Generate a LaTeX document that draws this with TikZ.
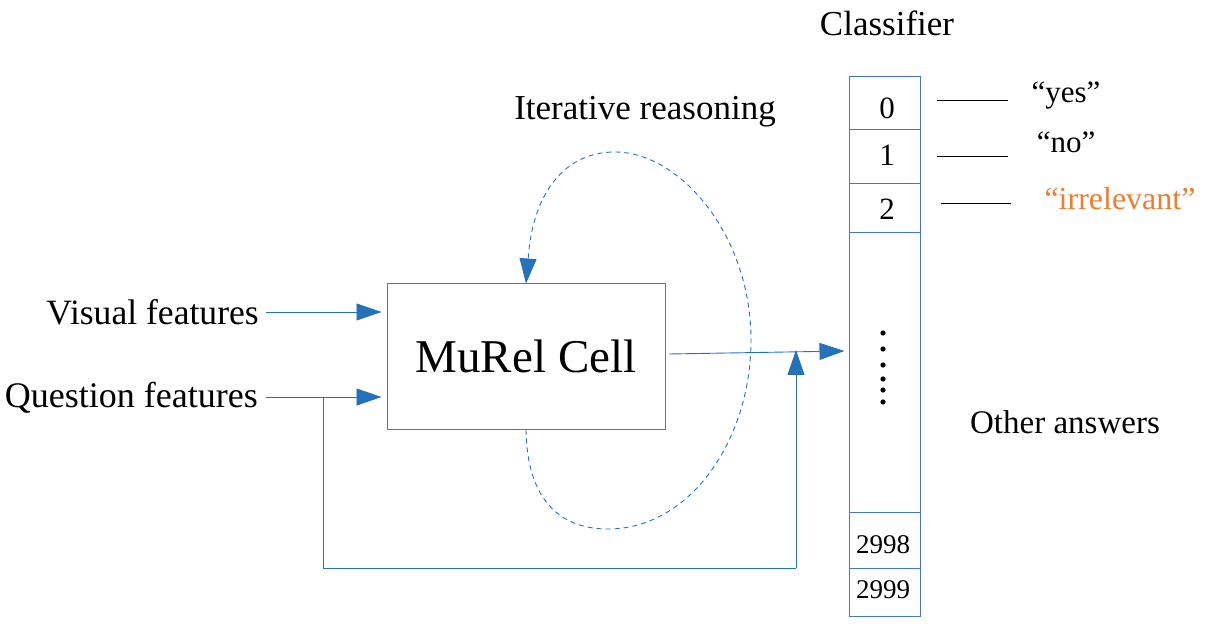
\documentclass[tikz,border=0pt]{standalone}
\usepackage{fontspec}
\setmainfont{Liberation Serif}
\usetikzlibrary{arrows.meta}
\definecolor{arrblue}{RGB}{38,114,186}
\definecolor{boxblue}{RGB}{72,120,196}
\definecolor{orangetxt}{RGB}{237,125,49}
\newcommand{\fs}[1]{\fontsize{#1}{#1}\selectfont}
\tikzset{
  arr/.style={draw=arrblue, line width=0.9pt, -{Triangle[length=25pt,width=17pt]}},
  conn/.style={draw=arrblue, line width=0.9pt},
  dashloop/.style={draw=arrblue, line width=0.9pt, dash pattern=on 5pt off 4pt},
  lbl/.style={inner sep=0pt, font=\fs{35}},
  cell/.style={draw=boxblue, line width=1pt, minimum width=71pt, inner sep=0pt},
  digit/.style={inner sep=0pt, font=\fs{31}},
  ansline/.style={draw=black, line width=1pt},
}
\begin{document}
\begin{tikzpicture}[x=1pt,y=-1pt]
\useasboundingbox (0,0) rectangle (1208,628);
% texts
\node[lbl, anchor=east, font=\fs{35.6}] (vf) at (259,312) {Visual features};
\node[lbl, anchor=east, font=\fs{36}] (qf) at (258,398) {Question features};
\node[lbl] (ir) at (645,112) {Iterative reasoning};
\node[lbl] (cl) at (887,23) {Classifier};
\node[lbl, font=\fs{33}] (oa) at (1065,422) {Other answers};
% MuRel cell
\node[draw=boxblue, line width=1pt, minimum width=278pt, minimum height=145pt, inner sep=0pt, font=\fs{47}] (cell) at (526,356.5) {MuRel Cell};
% classifier column
\node[cell, minimum height=53pt] (c0) at (884.5,103.5) {};
\node[cell, minimum height=54pt] (c1) at (884.5,157) {};
\node[cell, minimum height=49pt] (c2) at (884.5,208.5) {};
\node[cell, minimum height=279pt] (cd) at (884.5,372.5) {};
\node[cell, minimum height=56pt] (c2998) at (884.5,540) {};
\node[cell, minimum height=48pt] (c2999) at (884.5,592) {};
\node[digit] (t0) at (887,108) {0};
\node[digit] (t1) at (887,155) {1};
\node[digit] (t2) at (887,209) {2};
\node[digit, font=\fs{27}] (t2998) at (883,545) {2998};
\node[digit, font=\fs{27}] (t2999) at (883,590) {2999};
% dots
\foreach \yy in {333,349,365,379,390,402} \fill (883,\yy) circle (2.6pt);
% answer labels
\node[inner sep=0pt, font=\fs{31}] (yes) at (1066,96) {``yes''};
\node[inner sep=0pt, font=\fs{31}] (no) at (1066,142) {``no''};
\node[inner sep=0pt, font=\fs{32}, text=orangetxt] (irr) at (1120,199) {``irrelevant''};
\coordinate (y1) at (937,101); \coordinate (y2) at (1008,101);
\coordinate (n1) at (937,157); \coordinate (n2) at (1008,157);
\coordinate (i1) at (941,204); \coordinate (i2) at (1011,204);
\draw[ansline] (y1) -- (y2);
\draw[ansline] (n1) -- (n2);
\draw[ansline] (i1) -- (i2);
% input arrows
\draw[arr, shorten <=7pt, shorten >=5pt] (vf.east) -- (cell.west |- vf.east);
\draw[arr, shorten <=8pt, shorten >=5pt] (qf.east |- 0,397) -- (cell.west |- 0,397);
% feedback of question to classifier
\coordinate (qa) at (323,397);
\coordinate (qb) at (323,568);
\coordinate (qc) at (796,568);
\coordinate (qd) at (796,350);
\draw[conn] (qa) -- (qb) -- (qc);
\draw[arr] (qc) -- (qd);
% output arrow
\coordinate (oout) at (669,354);
\draw[arr] (oout) -- ([xshift=-4pt]cd.west |- 0,351);
% iterative loop
\draw[dashloop] (cell.south) .. controls (527,500) and (560,529) .. (608,529)
  .. controls (690,529) and (751,440) .. (751,340)
  .. controls (751,235) and (680,152) .. (615,152)
  .. controls (560,152) and (531,200) .. (528,262);
\draw[arr] (528,259) -- (cell.north);
\end{tikzpicture}
\end{document}
